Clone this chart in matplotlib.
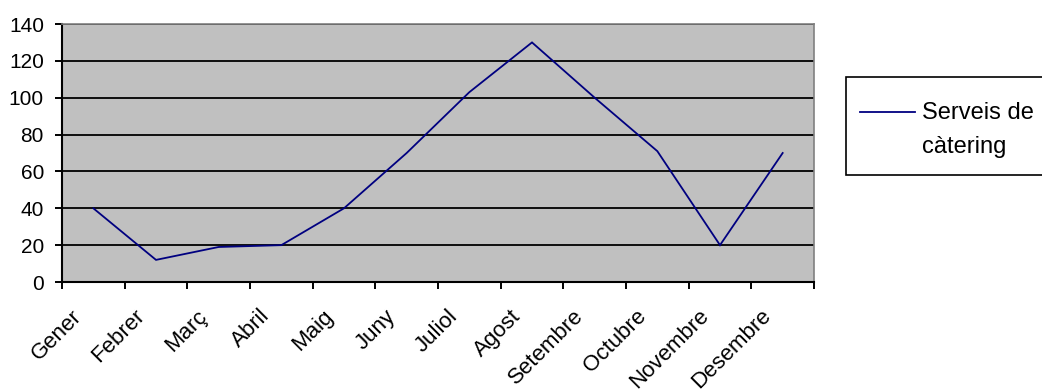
import matplotlib
matplotlib.use("Agg")
import matplotlib.pyplot as plt
import matplotlib.transforms as mtransforms
from matplotlib.patches import Rectangle
from matplotlib.lines import Line2D

plt.rcParams['font.family'] = ['Liberation Sans', 'DejaVu Sans']

# Monthly series
months = ["Gener", "Febrer", "Març", "Abril", "Maig", "Juny", "Juliol",
          "Agost", "Setembre", "Octubre", "Novembre", "Desembre"]
catering = [40, 12, 19, 20, 40, 70, 103, 130, 100, 71, 20, 70]
series_label = "Serveis de\ncàtering"
y_ticks = [0, 20, 40, 60, 80, 100, 120, 140]

W, H = 1042, 392
fig = plt.figure(figsize=(W / 100, H / 100), dpi=100)
fig.patch.set_facecolor("white")

left, right, top, bottom = 62, 814, 24, 282
ax = fig.add_axes([left / W, 1 - bottom / H, (right - left) / W, (bottom - top) / H])
ax.set_facecolor("#C0C0C0")

x = list(range(len(months)))
line_color = "#000080"
ax.plot(x, catering, color=line_color, lw=1.3, solid_joinstyle="miter", zorder=3)

ax.set_xlim(-0.5, len(months) - 0.5)
ax.set_ylim(y_ticks[0], y_ticks[-1])

# Horizontal gridlines
ax.set_yticks(y_ticks)
ax.yaxis.grid(True, color="black", lw=1.3)
ax.set_axisbelow(True)
ax.tick_params(axis="y", which="major", length=5, width=1.4, pad=8,
               labelsize=15, color="black", labelcolor="black", direction="out")

# Category boundaries as tick marks, month names centred between them
ax.set_xticks([i - 0.5 for i in range(len(months) + 1)])
ax.set_xticklabels([])
ax.tick_params(axis="x", which="major", length=5, width=1.4, direction="out", color="black")
ax.set_xticks(x, minor=True)
ax.set_xticklabels(months, minor=True, rotation=45, ha="right", va="top",
                   fontsize=16)
ax.tick_params(axis="x", which="minor", length=0, pad=17)
shift = mtransforms.ScaledTranslation(-7 / 100, 0, fig.dpi_scale_trans)
for lab in ax.get_xticklabels(minor=True):
    lab.set_transform(lab.get_transform() + shift)

for side in ("left", "bottom"):
    ax.spines[side].set_color("black")
    ax.spines[side].set_linewidth(1.5)
for side in ("top", "right"):
    ax.spines[side].set_color("#808080")
    ax.spines[side].set_linewidth(1.2)

# Legend box
lx0, ly0, ly1 = 846, 77, 175
fig.patches.append(Rectangle((lx0 / W, 1 - ly1 / H), (W + 40 - lx0) / W, (ly1 - ly0) / H,
                             transform=fig.transFigure, facecolor="white",
                             edgecolor="black", lw=1.2, zorder=5))
fig.lines.append(Line2D([860 / W, 915 / W], [1 - 112 / H, 1 - 112 / H],
                        transform=fig.transFigure, color=line_color, lw=1.3, zorder=6))
fig.text(922 / W, 1 - 102 / H, series_label, fontsize=17, va="top", ha="left",
         linespacing=1.7, zorder=7)

fig.savefig("out.png", dpi=100)
